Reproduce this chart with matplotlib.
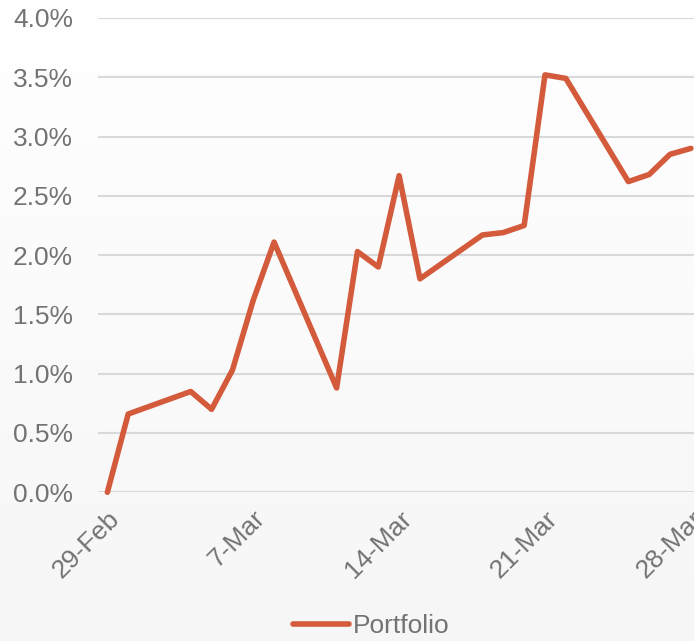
#!/usr/bin/env python3
# coding: utf-8

import matplotlib
matplotlib.use('Agg')
import matplotlib.pyplot as plt
import numpy as np
from matplotlib.ticker import FuncFormatter, MultipleLocator

# days after 29-Feb for each observation
day_offsets = [0, 1, 4, 5, 6, 7, 8, 11, 12, 13, 14, 15, 18, 19, 20, 21, 22, 25, 26, 27, 28]
portfolio = [0.00, 0.66, 0.85, 0.70, 1.03, 1.62, 2.11, 0.88, 2.03, 1.90, 2.67,
             1.80, 2.17, 2.19, 2.25, 3.52, 3.49, 2.62, 2.68, 2.85, 2.90]

tick_days = [0, 7, 14, 21, 28]
tick_labels = ['29-Feb', '7-Mar', '14-Mar', '21-Mar', '28-Mar']

line_color = '#D35A3B'
text_color = '#737373'
grid_color = '#D9D9D9'


def main():
    plt.rcParams['font.family'] = ['Liberation Sans', 'DejaVu Sans']

    fig = plt.figure(figsize=(6.94, 6.41), dpi=100)

    # faint vertical gradient behind everything
    bg = fig.add_axes([0, 0, 1, 1], zorder=-10)
    grad = np.linspace(1.0, 0.965, 256).reshape(-1, 1)
    bg.imshow(np.dstack([grad, grad, grad]), aspect='auto', extent=[0, 1, 0, 1])
    bg.axis('off')

    ax = fig.add_axes([0.1412, 0.232, 0.8588, 0.740])
    ax.set_facecolor('none')

    ax.plot(day_offsets, portfolio, color=line_color, lw=4.0,
            solid_joinstyle='round', solid_capstyle='round',
            label='Portfolio', clip_on=False)

    ax.set_xlim(-0.45, 28.15)
    ax.set_ylim(0, 4.0)
    ax.yaxis.set_major_locator(MultipleLocator(0.5))
    ax.yaxis.set_major_formatter(FuncFormatter(lambda v, p: '%.1f%%' % v))
    ax.grid(axis='y', color=grid_color, lw=1.5)
    ax.set_axisbelow(True)

    ax.set_xticks(tick_days)
    ax.set_xticklabels(tick_labels, rotation=45, ha='right',
                       rotation_mode='anchor')

    for s in ax.spines.values():
        s.set_visible(False)
    ax.tick_params(axis='both', length=0, labelsize=19, colors=text_color)
    ax.tick_params(axis='y', pad=18)
    ax.tick_params(axis='x', pad=10)

    leg = fig.legend(loc='lower center', bbox_to_anchor=(0.535, -0.032),
                     frameon=False, fontsize=19, handlelength=2.1,
                     handletextpad=0.15)
    for t in leg.get_texts():
        t.set_color(text_color)

    fig.savefig('out.png', dpi=100)


if __name__ == '__main__':
    main()
